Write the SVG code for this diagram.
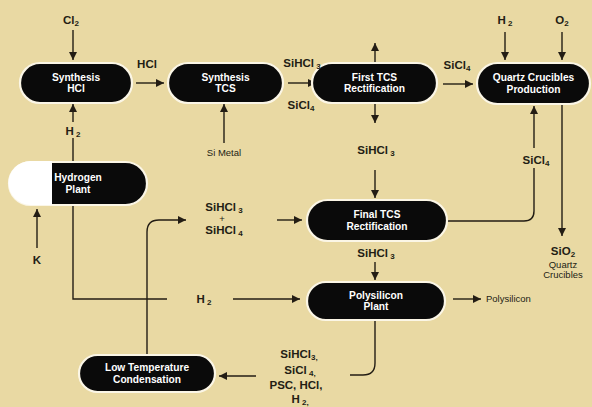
<svg xmlns="http://www.w3.org/2000/svg" width="592" height="407" viewBox="0 0 592 407">
<defs>
<marker id="a" viewBox="0 0 8 8" refX="8" refY="4" markerWidth="8" markerHeight="8" markerUnits="userSpaceOnUse" orient="auto"><path d="M0,0 L8,4 L0,8 Z" fill="#231d14"/></marker>
<style>
.n{fill:#0a0a0a;stroke:#fbf6e6;stroke-width:2.2}
.nt{fill:#fff;font-family:"Liberation Sans",Arial,sans-serif;font-weight:bold;font-size:10.2px;text-anchor:middle}
.c line,.c path{stroke:#231d14;stroke-width:1.4;fill:none}
.l{fill:#231d14;font-family:"Liberation Sans",Arial,sans-serif;font-weight:bold;font-size:11.5px;text-anchor:middle}
.s{fill:#231d14;font-family:"Liberation Sans",Arial,sans-serif;font-size:9.5px;text-anchor:middle}
.st{text-anchor:start}
</style>
</defs>
<rect width="592" height="407" fill="#e9d9a3"/>
<g class="c">
<line x1="73" y1="30" x2="73" y2="60" marker-end="url(#a)"/>
<line x1="73" y1="122" x2="73" y2="104" marker-end="url(#a)"/>
<line x1="73" y1="138" x2="73" y2="162"/>
<path d="M73,205 V299 H167"/>
<line x1="233" y1="299" x2="300" y2="299" marker-end="url(#a)"/>
<line x1="136" y1="83" x2="164" y2="83" marker-end="url(#a)"/>
<line x1="288" y1="83" x2="316" y2="83" marker-end="url(#a)"/>
<line x1="224" y1="143" x2="224" y2="104" marker-end="url(#a)"/>
<line x1="375" y1="62" x2="375" y2="43" marker-end="url(#a)"/>
<line x1="375" y1="104" x2="375" y2="123" marker-end="url(#a)"/>
<line x1="375" y1="170" x2="375" y2="198" marker-end="url(#a)"/>
<line x1="443" y1="84" x2="473" y2="84" marker-end="url(#a)"/>
<line x1="505" y1="32" x2="505" y2="60" marker-end="url(#a)"/>
<line x1="562" y1="32" x2="562" y2="60" marker-end="url(#a)"/>
<line x1="562" y1="104" x2="562" y2="236" marker-end="url(#a)"/>
<path d="M448,221 H524 Q534,221 534,211 V168"/>
<line x1="534" y1="148" x2="534" y2="106" marker-end="url(#a)"/>
<line x1="375" y1="262" x2="375" y2="280" marker-end="url(#a)"/>
<line x1="453" y1="299" x2="481" y2="299" marker-end="url(#a)"/>
<path d="M375,321 V363 Q375,375 363,375 H350"/>
<line x1="256" y1="376" x2="219" y2="376" marker-end="url(#a)"/>
<path d="M147,355 V232 Q147,220 159,220 H186" marker-end="url(#a)"/>
<line x1="277" y1="220" x2="302" y2="220" marker-end="url(#a)"/>
<line x1="37" y1="248" x2="37" y2="209" marker-end="url(#a)"/>
</g>
<g id="synthesis-hcl"><rect class="n" x="20" y="63" width="112" height="40" rx="20"/><text class="nt" x="76" y="80.5">Synthesis</text><text class="nt" x="76" y="92.2">HCl</text></g>
<g id="synthesis-tcs"><rect class="n" x="168" y="63" width="115" height="40" rx="20"/><text class="nt" x="225.5" y="80.5">Synthesis</text><text class="nt" x="225.5" y="92.2">TCS</text></g>
<g id="first-tcs"><rect class="n" x="312" y="63" width="125" height="40" rx="20"/><text class="nt" x="374.5" y="80.5">First TCS</text><text class="nt" x="374.5" y="92.2">Rectification</text></g>
<g id="quartz"><rect class="n" x="477" y="63" width="113" height="41" rx="20.5"/><text class="nt" x="533.5" y="81">Quartz Crucibles</text><text class="nt" x="533.5" y="92.7">Production</text></g>
<g id="hydrogen-plant">
<rect class="n" x="9" y="162" width="138" height="43" rx="21.5"/>
<path d="M52,161 H30.5 A21.5,21.5 0 0 0 30.5,205 H52 Z" fill="#fff"/>
<text class="nt" x="78" y="181">Hydrogen</text><text class="nt" x="78" y="192.7">Plant</text></g>
<g id="final-tcs"><rect class="n" x="307" y="200" width="140" height="41" rx="20.5"/><text class="nt" x="377" y="218">Final TCS</text><text class="nt" x="377" y="229.7">Rectification</text></g>
<g id="polysilicon-plant"><rect class="n" x="307" y="282" width="138" height="38" rx="19"/><text class="nt" x="376" y="298.5">Polysilicon</text><text class="nt" x="376" y="310.2">Plant</text></g>
<g id="ltc"><rect class="n" x="79" y="355" width="136" height="37" rx="18.5"/><text class="nt" x="147" y="371">Low Temperature</text><text class="nt" x="147" y="382.7">Condensation</text></g>
<g id="labels">
<text class="l" x="71" y="24">Cl<tspan font-size="8" dy="2">2</tspan></text>
<text class="l" x="147" y="68">HCl</text>
<text class="l" x="302" y="67">SiHCl<tspan font-size="8" dy="2"> 3</tspan></text>
<text class="l" x="301" y="109">SiCl<tspan font-size="8" dy="2">4</tspan></text>
<text class="s" x="224" y="156">Si Metal</text>
<text class="l" x="376" y="154">SiHCl<tspan font-size="8" dy="2"> 3</tspan></text>
<text class="l" x="457" y="69">SiCl<tspan font-size="8" dy="2">4</tspan></text>
<text class="l" x="505" y="24">H<tspan font-size="8" dy="2"> 2</tspan></text>
<text class="l" x="562" y="24">O<tspan font-size="8" dy="2">2</tspan></text>
<text class="l" x="73" y="135">H<tspan font-size="8" dy="2"> 2</tspan></text>
<text class="l" x="536" y="164">SiCl<tspan font-size="8" dy="2">4</tspan></text>
<text class="l" x="224" y="211">SiHCl<tspan font-size="8" dy="2"> 3</tspan></text>
<text class="s" x="222" y="222" font-size="7">+</text>
<text class="l" x="224" y="234">SiHCl<tspan font-size="8" dy="2"> 4</tspan></text>
<text class="l" x="37" y="264">K</text>
<text class="l" x="204" y="303">H<tspan font-size="8" dy="2"> 2</tspan></text>
<text class="l" x="376" y="257">SiHCl<tspan font-size="8" dy="2"> 3</tspan></text>
<text class="l" x="563" y="255">SiO<tspan font-size="8" dy="2">2</tspan></text>
<text class="s" x="563" y="267.5" font-size="9">Quartz</text>
<text class="s" x="563" y="278" font-size="9">Crucibles</text>
<text class="s st" x="486" y="302">Polysilicon</text>
<text class="l" x="299" y="358">SiHCl<tspan font-size="8" dy="2">3,</tspan></text>
<text class="l" x="300" y="374">SiCl<tspan font-size="8" dy="2"> 4,</tspan></text>
<text class="l" x="296" y="389">PSC, HCl,</text>
<text class="l" x="300" y="403">H<tspan font-size="8" dy="2"> 2,</tspan></text>
</g>
</svg>
